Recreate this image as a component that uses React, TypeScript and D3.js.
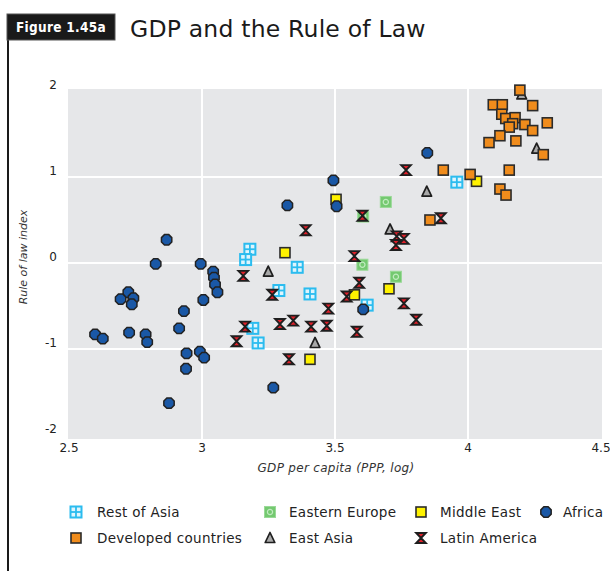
import React from "react";
import * as d3 from "d3";

type P = [number, number];

// GDP per capita (log, PPP) vs Rule of law index
const restOfAsia: P[] = [
  [3.18, 0.16], [3.164, 0.04], [3.358, -0.05], [3.289, -0.32], [3.406, -0.36],
  [3.191, -0.76], [3.211, -0.93], [3.621, -0.49], [3.958, 0.94],
];
const easternEurope: P[] = [
  [3.691, 0.71], [3.606, 0.54], [3.603, -0.02], [3.729, -0.16],
];
const middleEast: P[] = [
  [3.312, 0.12], [3.504, 0.74], [3.573, -0.37], [3.703, -0.3], [3.406, -1.12], [4.032, 0.95],
];
const eastAsia: P[] = [
  [3.249, -0.1], [3.425, -0.93], [3.845, 0.83], [3.707, 0.39], [4.202, 1.96], [4.258, 1.33],
];
const developed: P[] = [
  [3.907, 1.08], [4.008, 1.03], [3.857, 0.5], [4.195, 2.01], [4.243, 1.83],
  [4.095, 1.84], [4.129, 1.84], [4.127, 1.73], [4.142, 1.68], [4.177, 1.69],
  [4.168, 1.62], [4.155, 1.58], [4.214, 1.61], [4.243, 1.54], [4.298, 1.63],
  [4.12, 1.48], [4.079, 1.4], [4.18, 1.42], [4.283, 1.26], [4.155, 1.08],
  [4.12, 0.86], [4.143, 0.79],
];
const latinAmerica: P[] = [
  [3.39, 0.38], [3.155, -0.15], [3.264, -0.37], [3.475, -0.53], [3.293, -0.71],
  [3.343, -0.67], [3.41, -0.74], [3.469, -0.73], [3.162, -0.74], [3.13, -0.91],
  [3.327, -1.12], [3.573, 0.08], [3.544, -0.39], [3.582, -0.8], [3.767, 1.08],
  [3.603, 0.55], [3.898, 0.52], [3.732, 0.31], [3.759, 0.28], [3.729, 0.21],
  [3.591, -0.23], [3.759, -0.47], [3.805, -0.66],
];
const africa: P[] = [
  [2.867, 0.27], [2.826, -0.01], [2.995, -0.01], [3.042, -0.1], [3.045, -0.17],
  [3.049, -0.25], [3.058, -0.34], [3.005, -0.43], [2.723, -0.34], [2.694, -0.42],
  [2.742, -0.41], [2.736, -0.48], [2.932, -0.56], [2.914, -0.76], [2.598, -0.83],
  [2.627, -0.88], [2.726, -0.81], [2.788, -0.83], [2.794, -0.92], [2.942, -1.05],
  [2.992, -1.03], [3.008, -1.1], [2.94, -1.23], [2.876, -1.63], [3.321, 0.67],
  [3.494, 0.96], [3.506, 0.66], [3.268, -1.45], [3.847, 1.28], [3.606, -0.54],
];

const xTicks = [2.5, 3, 3.5, 4, 4.5];
const yTicks = [2, 1, 0, -1, -2];
const xGrid = [3, 3.5, 4];
const yGrid = [1, 0, -1];

type Kind = "rest" | "eeur" | "mide" | "afr" | "dev" | "easia" | "latam";

const legendRow1: { kind: Kind; label: string }[] = [
  { kind: "rest", label: "Rest of Asia" },
  { kind: "eeur", label: "Eastern Europe" },
  { kind: "mide", label: "Middle East" },
  { kind: "afr", label: "Africa" },
];
const legendRow2: { kind: Kind; label: string }[] = [
  { kind: "dev", label: "Developed countries" },
  { kind: "easia", label: "East Asia" },
  { kind: "latam", label: "Latin America" },
];

const FONT = "'DejaVu Sans', 'Liberation Sans', sans-serif";

const octagon = (() => {
  const r = 5.6;
  const pts = d3.range(8).map((k) => {
    const a = (Math.PI / 8) + (k * Math.PI) / 4;
    return [r * Math.cos(a), r * Math.sin(a)];
  });
  return "M" + pts.map((p) => p.join(",")).join("L") + "Z";
})();

function Marker({ kind, x, y }: { kind: Kind; x: number; y: number }) {
  const t = `translate(${x},${y})`;
  switch (kind) {
    case "rest":
      return (
        <g transform={t}>
          <rect x={-5.5} y={-5.5} width={11} height={11} fill="#dff5fd" stroke="#2bbcef" strokeWidth={2} />
          <line x1={0} x2={0} y1={-5} y2={5} stroke="#2bbcef" strokeWidth={1.8} />
          <line x1={-5} x2={5} y1={0} y2={0} stroke="#2bbcef" strokeWidth={1.8} />
        </g>
      );
    case "eeur":
      return (
        <g transform={t}>
          <rect x={-5.5} y={-5.5} width={11} height={11} fill="#74c970" stroke="#9ad997" strokeWidth={1} />
          <circle r={2.6} fill="none" stroke="#c2ebc0" strokeWidth={1.2} />
        </g>
      );
    case "mide":
      return (
        <rect transform={t} x={-5} y={-5} width={10} height={10} fill="#fff200" stroke="#2b2b2b" strokeWidth={1.6} />
      );
    case "dev":
      return (
        <rect transform={t} x={-5} y={-5} width={10} height={10} fill="#f08c1c" stroke="#2b2b2b" strokeWidth={1.6} />
      );
    case "afr":
      return <path transform={t} d={octagon} fill="#1a58a6" stroke="#222" strokeWidth={1.5} />;
    case "easia":
      return (
        <path transform={t} d="M0,-5.5L4.8,4.5L-4.8,4.5Z" fill="#a8a8a8" stroke="#1e1e1e" strokeWidth={1.7} strokeLinejoin="round" />
      );
    case "latam":
      return (
        <path transform={t} d="M-4.8,-5L4.8,-5L0,0L4.8,5L-4.8,5L0,0Z" fill="#e0202a" stroke="#1e1e1e" strokeWidth={1.9} strokeLinejoin="miter" />
      );
  }
  return null;
}

export default function App() {
  const W = 610;
  const H = 571;
  const x = d3.scaleLinear().domain([2.5, 4.5]).range([69, 601]);
  const y = d3.scaleLinear().domain([-2, 2]).range([435, 91]);

  const series: { kind: Kind; data: P[] }[] = [
    { kind: "rest", data: restOfAsia },
    { kind: "eeur", data: easternEurope },
    { kind: "mide", data: middleEast },
    { kind: "easia", data: eastAsia },
    { kind: "dev", data: developed },
    { kind: "latam", data: latinAmerica },
    { kind: "afr", data: africa },
  ];

  const legendX1 = [76, 270, 421, 546];
  const legendTX1 = [97, 289, 440, 563];
  const legendX2 = [76, 270, 421];
  const legendTX2 = [97, 289, 440];

  return (
    <div style={{ position: "absolute", left: 0, top: 0, width: W, height: H, background: "#fff" }}>
      <svg width={W} height={H} style={{ display: "block" }}>
        <rect x={0} y={0} width={W} height={H} fill="#fff" />
        {/* left frame line */}
        <line x1={8} x2={8} y1={14} y2={H} stroke="#1a1a1a" strokeWidth={2} />
        {/* figure tag */}
        <rect x={7} y={14} width={108} height={26} fill="#1a1a1a" stroke="#555" strokeWidth={1} />
        <text x={61} y={32} textAnchor="middle" fill="#fff" fontFamily="'DejaVu Sans Condensed', 'DejaVu Sans', sans-serif" fontWeight="bold" fontSize={13.5} letterSpacing={0.3}>
          Figure 1.45a
        </text>
        <text x={130} y={37} fill="#1a1a1a" fontFamily={FONT} fontSize={23.5} letterSpacing={0.2}>
          GDP and the Rule of Law
        </text>

        {/* plot background */}
        <rect x={68} y={89} width={534} height={350} fill="#e6e7e9" />
        {xGrid.map((v) => (
          <line key={"gx" + v} x1={x(v)} x2={x(v)} y1={89} y2={439} stroke="#fff" strokeWidth={2} />
        ))}
        {yGrid.map((v) => (
          <line key={"gy" + v} x1={68} x2={602} y1={y(v)} y2={y(v)} stroke="#fff" strokeWidth={2} />
        ))}

        {/* ticks */}
        {yTicks.map((v) => (
          <text key={"ty" + v} x={57} y={y(v) - 2} textAnchor="end" fontFamily={FONT} fontSize={12} fill="#222">
            {v}
          </text>
        ))}
        {xTicks.map((v) => (
          <text key={"tx" + v} x={x(v)} y={452} textAnchor="middle" fontFamily={FONT} fontSize={12} fill="#222">
            {v}
          </text>
        ))}

        {/* axis titles */}
        <text x={336} y={472} textAnchor="middle" fontFamily={FONT} fontStyle="italic" fontSize={12} fill="#333" letterSpacing={0.3}>
          GDP per capita (PPP, log)
        </text>
        <text transform="translate(27,257) rotate(-90)" textAnchor="middle" fontFamily={FONT} fontStyle="italic" fontSize={11} fill="#333">
          Rule of law index
        </text>

        {/* points */}
        {series.map((s) => (
          <g key={s.kind}>
            {s.data.map((d, i) => (
              <Marker key={i} kind={s.kind} x={x(d[0])} y={y(d[1])} />
            ))}
          </g>
        ))}

        {/* legend */}
        {legendRow1.map((l, i) => (
          <g key={l.kind}>
            <Marker kind={l.kind} x={legendX1[i]} y={512} />
            <text x={legendTX1[i]} y={517} fontFamily={FONT} fontSize={13.5} fill="#222" letterSpacing={0.3}>
              {l.label}
            </text>
          </g>
        ))}
        {legendRow2.map((l, i) => (
          <g key={l.kind}>
            <Marker kind={l.kind} x={legendX2[i]} y={538} />
            <text x={legendTX2[i]} y={543} fontFamily={FONT} fontSize={13.5} fill="#222" letterSpacing={0.3}>
              {l.label}
            </text>
          </g>
        ))}
      </svg>
    </div>
  );
}
